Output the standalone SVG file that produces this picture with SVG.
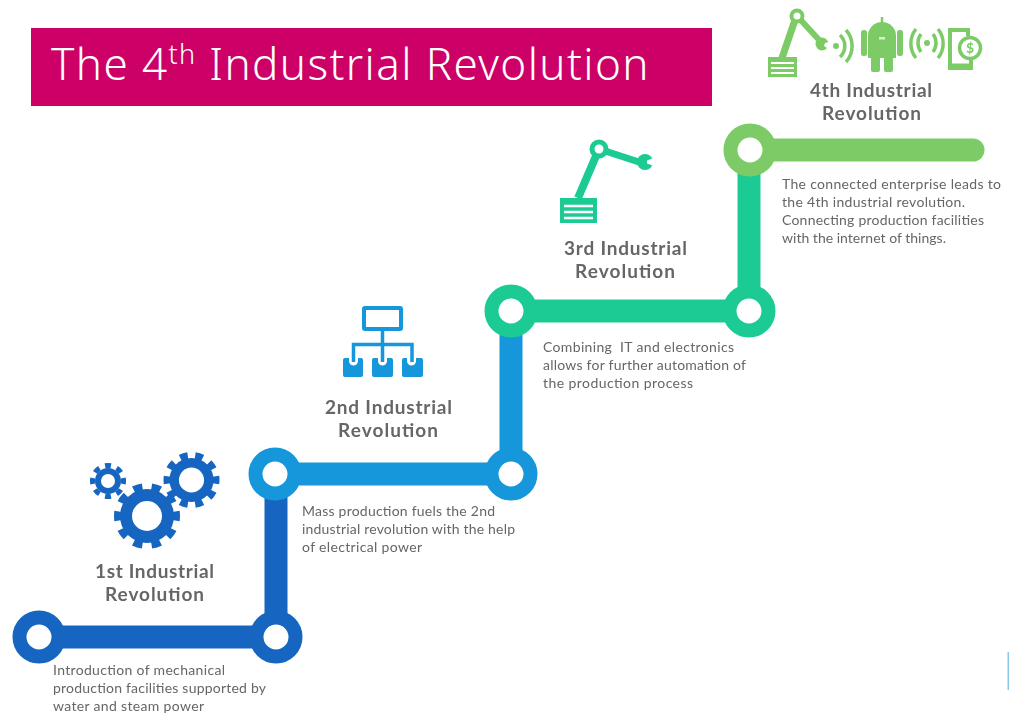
<svg xmlns="http://www.w3.org/2000/svg" width="1009" height="721" viewBox="0 0 1009 721">
<style>
.h{font-family:"Lato","Liberation Sans",sans-serif;font-weight:700;font-size:19px;fill:#666;text-anchor:middle;filter:url(#b)}
.d{font-family:"Lato","Liberation Sans",sans-serif;font-size:14px;fill:#666;filter:url(#b)}
.t{font-family:"Noto Sans","Liberation Sans",sans-serif;font-weight:300;font-size:44px;letter-spacing:1.4px;fill:#fff}
.iw{fill:none;stroke:#fff;stroke-width:2.5}
.ln{fill:none;stroke:#7ccb66;stroke-width:3.5}
</style>
<defs>
<filter id="b" filterUnits="userSpaceOnUse" x="0" y="0" width="1009" height="721"><feGaussianBlur stdDeviation="0.55"/></filter>
<filter id="s" filterUnits="userSpaceOnUse" x="0" y="0" width="1009" height="721"><feGaussianBlur stdDeviation="0.7"/></filter>
</defs>
<rect width="1009" height="721" fill="#fff"/>
<g id="connectors" fill="none" stroke-width="23" filter="url(#s)">
<path d="M39 637H276V474" stroke="#1565c0"/>
<path d="M276 474H511V311" stroke="#1296db"/>
<path d="M511 311H749V150" stroke="#1ecb94"/>
<path d="M749 150H973" stroke="#7ccb66" stroke-linecap="round"/>
</g>
<g id="title">
<rect x="31" y="28" width="681" height="78" fill="#cc0066"/>
<text class="t" x="51" y="80">The 4<tspan dy="-16" font-size="27">th</tspan><tspan dy="16"> Industrial Revolution</tspan></text>
</g>
<g id="node-1" filter="url(#s)">
<circle cx="39" cy="637" r="19.500" fill="#fff" stroke="#1565c0" stroke-width="14"/>
<circle cx="276" cy="637" r="19.500" fill="#fff" stroke="#1565c0" stroke-width="14"/>
</g>
<g id="node-2" filter="url(#s)">
<circle cx="275" cy="474" r="19.500" fill="#fff" stroke="#1296db" stroke-width="14"/>
<circle cx="511" cy="474" r="19.500" fill="#fff" stroke="#1296db" stroke-width="14"/>
</g>
<g id="node-3" filter="url(#s)">
<circle cx="511" cy="311" r="19.500" fill="#fff" stroke="#1ecb94" stroke-width="14"/>
<circle cx="749" cy="311" r="19.500" fill="#fff" stroke="#1ecb94" stroke-width="14"/>
</g>
<g id="node-4" filter="url(#s)">
<circle cx="750" cy="150" r="19.500" fill="#fff" stroke="#7ccb66" stroke-width="14"/>
</g>
<g id="gears" fill="none" stroke="#1565c0" filter="url(#s)">
<circle cx="147" cy="516" r="21" stroke-width="12"/>
<circle cx="147" cy="516" r="28.500" stroke-width="9" pathLength="20" stroke-dasharray="1 1" stroke-dashoffset="0.5"/>
<circle cx="191.500" cy="480" r="17.300" stroke-width="9.500"/>
<circle cx="191.500" cy="480" r="24.500" stroke-width="7" pathLength="20" stroke-dasharray="1 1" stroke-dashoffset="0.5"/>
<circle cx="108" cy="481" r="10" stroke-width="6"/>
<circle cx="108" cy="481" r="15.500" stroke-width="5" pathLength="16" stroke-dasharray="1 1" stroke-dashoffset="0.5"/>
</g>
<g id="network" filter="url(#s)">
<rect x="364" y="308" width="37" height="21" rx="1" fill="none" stroke="#1296db" stroke-width="4"/>
<path d="M382.500 331V362M353.500 362V344.500H412V362" fill="none" stroke="#1296db" stroke-width="3.500"/>
<path d="M343 360q0-2 2-2h4v3a4.500 4.500 0 0 0 9 0v-3h3q2 0 2 2v15q0 2-2 2h-16q-2 0-2-2zM372 360q0-2 2-2h4v3a4.500 4.500 0 0 0 9 0v-3h4q2 0 2 2v15q0 2-2 2h-17q-2 0-2-2zM402 360q0-2 2-2h3v3a4.500 4.500 0 0 0 9 0v-3h5q2 0 2 2v15q0 2-2 2h-17q-2 0-2-2z" fill="#1296db"/>
</g>
<g id="robot-3" filter="url(#s)">
<path d="M578 198L599 149" fill="none" stroke="#1ecb94" stroke-width="8"/>
<path d="M599 149L642 163" fill="none" stroke="#1ecb94" stroke-width="7"/>
<circle cx="599" cy="149" r="7" fill="#fff" stroke="#1ecb94" stroke-width="5"/>
<circle cx="645" cy="162" r="8" fill="#1ecb94"/>
<path d="M654 158L647 160.500L647 163.500L654 166z" fill="#fff"/>
<rect x="560" y="198" width="37" height="25" fill="#1ecb94"/>
<path d="M564 206H593M564 212H593M564 218H593" class="iw"/>
</g>
<g id="icons-4" filter="url(#s)">
<path d="M782 58L796 17" fill="none" stroke="#7ccb66" stroke-width="7"/>
<path d="M797 16L821 42" fill="none" stroke="#7ccb66" stroke-width="6"/>
<circle cx="797" cy="16" r="5.500" fill="#fff" stroke="#7ccb66" stroke-width="4"/>
<circle cx="822" cy="44" r="6.500" fill="#7ccb66"/>
<path d="M832 41L825 43L824 46L830 50z" fill="#fff"/>
<rect x="768" y="57" width="29" height="20" fill="#7ccb66"/>
<path d="M771 63H794M771 68H794M771 73H794" fill="none" stroke="#fff" stroke-width="2"/>
<circle cx="836" cy="46" r="3" fill="#7ccb66"/>
<path d="M840 35A15 15 0 0 1 840 57M846 30A24 24 0 0 1 846 62" class="ln"/>
<path d="M882 17V26" stroke="#7ccb66" stroke-width="2.500"/>
<path d="M868 42V36A14 14 0 0 1 896 36V42z" fill="#7ccb66"/>
<rect x="868" y="41" width="28" height="17" fill="#7ccb66"/>
<rect x="861" y="30" width="6" height="26" rx="2.500" fill="#7ccb66"/>
<rect x="897" y="30" width="6" height="26" rx="2.500" fill="#7ccb66"/>
<rect x="871" y="55" width="9" height="17" rx="2" fill="#7ccb66"/>
<rect x="884" y="55" width="9" height="17" rx="2" fill="#7ccb66"/>
<rect x="879" y="37" width="6" height="2.500" fill="#fff" opacity="0.7"/>
<circle cx="927" cy="43" r="3" fill="#7ccb66"/>
<path d="M921 34A15 15 0 0 0 921 52M933 34A15 15 0 0 1 933 52M916 29A23 23 0 0 0 916 58M938 29A23 23 0 0 1 938 58" class="ln"/>
<path d="M968 36V30H950V68H971V60" fill="none" stroke="#7ccb66" stroke-width="4"/>
<path d="M950 65H971" stroke="#7ccb66" stroke-width="3"/>
<circle cx="970" cy="48" r="10.500" fill="#fff" stroke="#7ccb66" stroke-width="3.500"/>
<text x="970" y="53" font-family="Lato,'Liberation Sans',sans-serif" font-weight="700" font-size="14" fill="#7ccb66" text-anchor="middle">$</text>
</g>
<g id="label-1">
<text class="h" x="154.500" y="578" textLength="119">1st Industrial</text>
<text class="h" x="154.500" y="601" textLength="99">Revolution</text>
<text class="d" x="53" y="675" textLength="172">Introduction of mechanical</text>
<text class="d" x="53" y="693" textLength="213">production facilities supported by</text>
<text class="d" x="53" y="711" textLength="151">water and steam power</text>
</g>
<g id="label-2">
<text class="h" x="388.500" y="414" textLength="127">2nd Industrial</text>
<text class="h" x="388" y="437" textLength="100">Revolution</text>
<text class="d" x="302" y="516" textLength="193">Mass production fuels the 2nd</text>
<text class="d" x="302" y="534" textLength="213">industrial revolution with the help</text>
<text class="d" x="302" y="552" textLength="120">of electrical power</text>
</g>
<g id="label-3">
<text class="h" x="625.500" y="255" textLength="123">3rd Industrial</text>
<text class="h" x="625" y="278" textLength="100">Revolution</text>
<text class="d" x="543" y="352" textLength="191" xml:space="preserve">Combining  IT and electronics</text>
<text class="d" x="543" y="370" textLength="203">allows for further automation of</text>
<text class="d" x="543" y="388" textLength="150">the production process</text>
</g>
<g id="label-4">
<text class="h" x="871" y="97" textLength="122">4th Industrial</text>
<text class="h" x="871.500" y="120" textLength="99">Revolution</text>
<text class="d" x="782" y="189" textLength="219">The connected enterprise leads to</text>
<text class="d" x="782" y="207" textLength="183">the 4th industrial revolution.</text>
<text class="d" x="782" y="225" textLength="202">Connecting production facilities</text>
<text class="d" x="782" y="243" textLength="164">with the internet of things.</text>
</g>
<rect x="1007.500" y="652" width="1.500" height="38" fill="#8cc8e8"/>
</svg>
